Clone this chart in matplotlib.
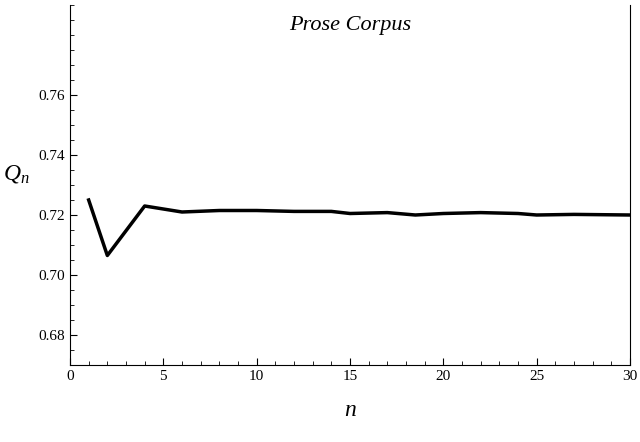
import matplotlib.pyplot as plt
from matplotlib.ticker import MultipleLocator

n = [1, 2, 4, 6, 8, 10, 12, 14, 15, 17, 18.5, 20, 22, 24, 25, 27, 30]
q = [0.725, 0.7065, 0.723, 0.721, 0.7215, 0.7215, 0.7212, 0.7212, 0.7205,
     0.7208, 0.7200, 0.7205, 0.7208, 0.7205, 0.7200, 0.7202, 0.7200]

plt.rcParams['font.family'] = 'Liberation Serif'
plt.rcParams['mathtext.fontset'] = 'custom'
plt.rcParams['mathtext.it'] = 'Liberation Serif:italic'
plt.rcParams['mathtext.rm'] = 'Liberation Serif'
fig = plt.figure(figsize=(6.4, 4.42), dpi=100)
ax = fig.add_axes([70/640, 1-365/442, 560/640, 360/442])
ax.plot(n, q, color='black', lw=2.5)
ax.set_xlim(0, 30)
ax.set_ylim(0.67, 0.79)
ax.set_yticks([0.68, 0.70, 0.72, 0.74, 0.76])
ax.yaxis.set_minor_locator(MultipleLocator(0.005))
ax.xaxis.set_minor_locator(MultipleLocator(1))
ax.spines['top'].set_visible(False)
ax.tick_params(labelsize=11, direction='in', length=5)
ax.tick_params(which='minor', direction='in', length=3)
ax.set_xlabel('$n$', fontsize=17, labelpad=12)
ax.set_ylabel('$Q_n$', fontsize=17, rotation=0, labelpad=16)
ax.text(0.5, 0.93, 'Prose Corpus', transform=ax.transAxes, ha='center',
        fontsize=16, style='italic')
fig.savefig('out.png')
